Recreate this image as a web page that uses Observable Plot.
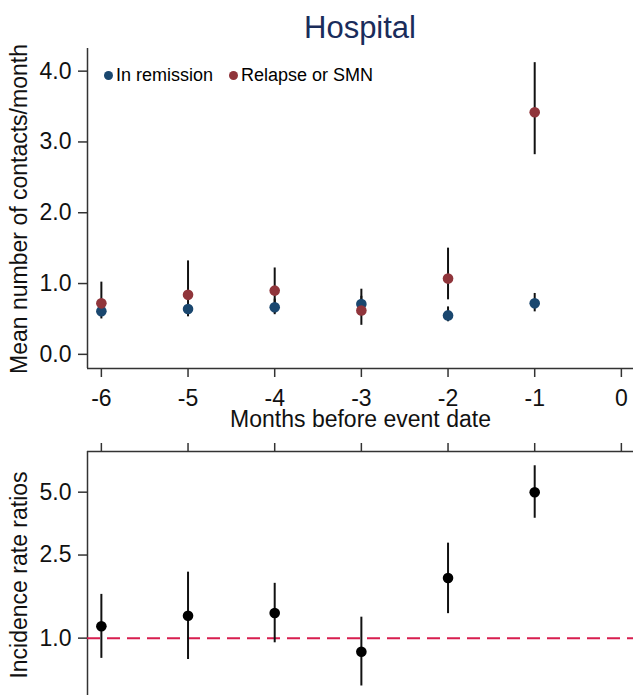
<!DOCTYPE html>
<html>
<head>
<meta charset="utf-8">
<script src="https://cdn.jsdelivr.net/npm/d3@7"></script>
<script src="https://cdn.jsdelivr.net/npm/@observablehq/plot@0.6"></script>
<style>
html, body { margin: 0; padding: 0; background: #fff; overflow: hidden; width: 633px; height: 695px; }
#wrap { position: relative; width: 633px; height: 695px; font-family: "Liberation Sans", Arial, sans-serif; }
#title { position: absolute; left: 87px; width: 546px; top: 12px; text-align: center; font-size: 31px; line-height: 31px; color: #1a2c5b; }
#topPlot { position: absolute; left: 0; top: 40px; }
#botPlot { position: absolute; left: 0; top: 430px; }
.leg { position: absolute; top: 64px; height: 22px; line-height: 22px; font-size: 18px; color: #000; white-space: nowrap; }
.leg .dot { position: absolute; left: 0; top: 6.5px; width: 9px; height: 9px; border-radius: 50%; }
.leg .lab { position: absolute; left: 12px; top: 0; }
.ylab { position: absolute; left: 19px; font-size: 23px; line-height: 23px; color: #111; white-space: nowrap; transform: translate(-50%, -50%) rotate(-90deg); }
</style>
</head>
<body>
<div id="wrap">
  <div id="title"></div>
  <div id="topPlot"></div>
  <div id="botPlot"></div>
  <div id="legend"></div>
  <div id="ylabTop" class="ylab" style="top:209px"></div>
  <div id="ylabBot" class="ylab" style="top:575px"></div>
</div>
<script>
// ---- data ----
const titleText = "Hospital";
const months = [-6, -5, -4, -3, -2, -1];
const seriesNames = ["In remission", "Relapse or SMN"];
const seriesColors = ["#1a476f", "#90353b"];
const remMean = [0.61, 0.64, 0.665, 0.71, 0.55, 0.72];
const remLo   = [0.54, 0.57, 0.56, 0.60, 0.46, 0.60];
const remHi   = [0.69, 0.72, 0.78, 0.82, 0.67, 0.86];
const relMean = [0.72, 0.84, 0.90, 0.62, 1.07, 3.42];
const relLo   = [0.50, 0.53, 0.58, 0.41, 0.77, 2.82];
const relHi   = [1.02, 1.32, 1.22, 0.92, 1.50, 4.12];
const irrMean = [1.14, 1.28, 1.32, 0.86, 1.94, 5.0];
const irrLo   = [0.80, 0.79, 0.95, 0.59, 1.31, 3.75];
const irrHi   = [1.62, 2.07, 1.83, 1.26, 2.85, 6.69];
const xTicks = [-6, -5, -4, -3, -2, -1, 0];
const yTicksTop = [0, 1, 2, 3, 4];
const yTicksBottom = [1, 2.5, 5];
const xLabel = "Months before event date";
const yLabelTop = "Mean number of contacts/month";
const yLabelBottom = "Incidence rate ratios";
const refValue = 1;

// ---- styles ----
const FONT = "'Liberation Sans', Arial, sans-serif";
const AXIS = "#333";
const xDomain = [-6.16, 0.14];
const yDomainTop = [-0.2, 4.32];
const yDomainBottom = [0.514, 7.83];

const rem = months.map((m, i) => ({month: m, mean: remMean[i], lo: remLo[i], hi: remHi[i]}));
const rel = months.map((m, i) => ({month: m, mean: relMean[i], lo: relLo[i], hi: relHi[i]}));
const irr = months.map((m, i) => ({month: m, mean: irrMean[i], lo: irrLo[i], hi: irrHi[i]}));

document.getElementById("title").textContent = titleText;
document.getElementById("ylabTop").textContent = yLabelTop;
document.getElementById("ylabBot").textContent = yLabelBottom;

const topPlot = Plot.plot({
  width: 633, height: 390,
  marginTop: 8, marginLeft: 87, marginRight: 0, marginBottom: 62,
  style: {fontFamily: FONT, fontSize: "23px", color: "#111", background: "transparent", overflow: "visible"},
  x: {domain: xDomain},
  y: {domain: yDomainTop},
  marks: [
    Plot.ruleX([xDomain[0]], {stroke: AXIS, strokeWidth: 1.5}),
    Plot.ruleY([yDomainTop[0]], {stroke: AXIS, strokeWidth: 1.5}),
    Plot.axisX({ticks: xTicks, tickSize: 9, tickPadding: 12, tickFormat: d => String(d), label: null, stroke: AXIS, strokeWidth: 1.5, fontSize: 23}),
    Plot.axisY({ticks: yTicksTop, tickSize: 9, tickPadding: 7, tickFormat: d3.format(".1f"), label: null, stroke: AXIS, strokeWidth: 1.5, fontSize: 23}),
    Plot.text([xLabel], {frameAnchor: "bottom", lineAnchor: "middle", dy: 51, fontSize: 23, fill: "#111"}),
    Plot.ruleX(rem, {x: "month", y1: "lo", y2: "hi", stroke: "#111", strokeWidth: 2}),
    Plot.ruleX(rel, {x: "month", y1: "lo", y2: "hi", stroke: "#111", strokeWidth: 2}),
    Plot.dot(rem, {x: "month", y: "mean", r: 5.3, fill: seriesColors[0]}),
    Plot.dot(rel, {x: "month", y: "mean", r: 5.3, fill: seriesColors[1]})
  ]
});
document.getElementById("topPlot").appendChild(topPlot);

const botPlot = Plot.plot({
  width: 633, height: 288,
  marginTop: 21, marginLeft: 87, marginRight: 0, marginBottom: 20,
  style: {fontFamily: FONT, fontSize: "23px", color: "#111", background: "transparent", overflow: "visible"},
  x: {domain: xDomain},
  y: {type: "log", domain: yDomainBottom},
  marks: [
    Plot.ruleX([xDomain[0]], {stroke: AXIS, strokeWidth: 1.5}),
    Plot.ruleY([yDomainBottom[1]], {stroke: AXIS, strokeWidth: 1.5}),
    Plot.axisX({anchor: "top", ticks: xTicks, tickSize: 9, tickFormat: () => "", label: null, stroke: AXIS, strokeWidth: 1.5}),
    Plot.axisY({ticks: yTicksBottom, tickSize: 9, tickPadding: 7, tickFormat: d3.format(".1f"), label: null, stroke: AXIS, strokeWidth: 1.5, fontSize: 23}),
    Plot.ruleY([refValue], {stroke: "#d81e4f", strokeWidth: 2, strokeDasharray: "13,7"}),
    Plot.ruleX(irr, {x: "month", y1: "lo", y2: "hi", stroke: "#111", strokeWidth: 2}),
    Plot.dot(irr, {x: "month", y: "mean", r: 5.3, fill: "#000"})
  ]
});
document.getElementById("botPlot").appendChild(botPlot);

// legend (inside the top plot area)
const legend = document.getElementById("legend");
const legLeft = [104, 229];
seriesNames.forEach((name, i) => {
  const item = document.createElement("div");
  item.className = "leg";
  item.style.left = legLeft[i] + "px";
  const dot = document.createElement("span");
  dot.className = "dot";
  dot.style.background = seriesColors[i];
  const lab = document.createElement("span");
  lab.className = "lab";
  lab.textContent = name;
  item.appendChild(dot);
  item.appendChild(lab);
  legend.appendChild(item);
});
</script>
</body>
</html>
